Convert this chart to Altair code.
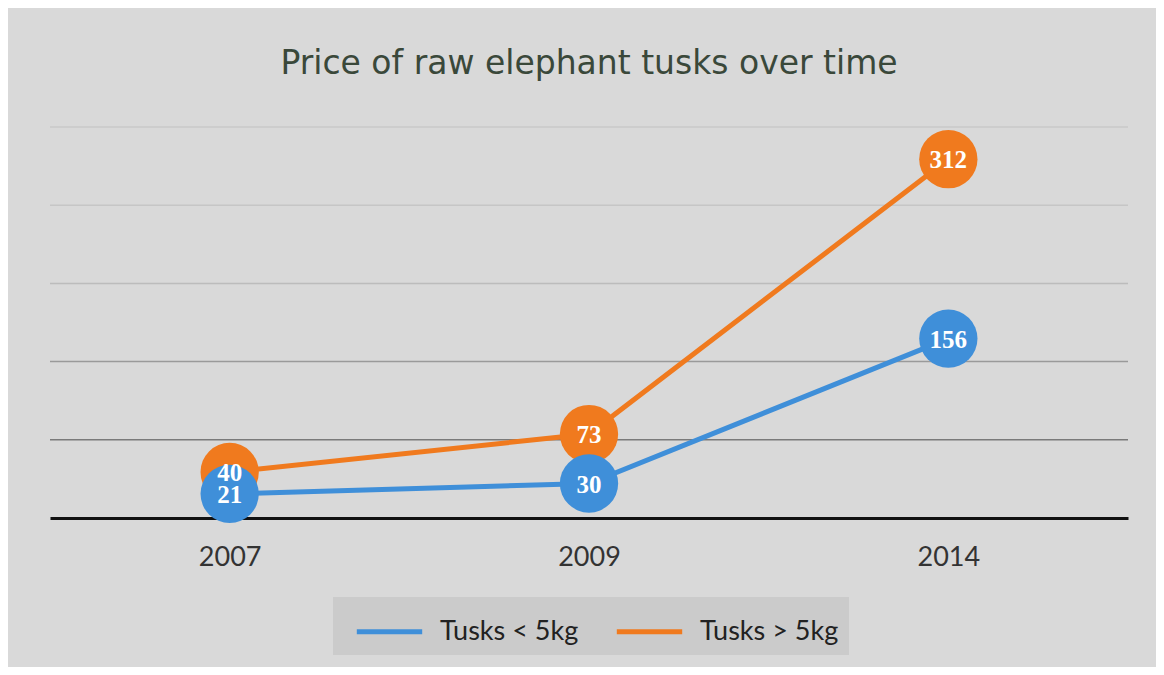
import altair as alt
import pandas as pd

years = ["2007", "2009", "2014"]
series_names = ["Tusks < 5kg", "Tusks > 5kg"]
small_tusks = [21, 30, 156]
large_tusks = [40, 73, 312]
series_colors = ["#3f8fd9", "#f07a1e"]

grid_values = [68, 136, 204, 272, 340]
grid_colors = ["#7a7a7a", "#9a9a9a", "#bcbcbc", "#c6c6c6", "#c8c8c8"]

rows = []
for y, v in zip(years, large_tusks):
    rows.append({"year": y, "series": series_names[1], "value": v})
for y, v in zip(years, small_tusks):
    rows.append({"year": y, "series": series_names[0], "value": v})
df = pd.DataFrame(rows)
grid_df = pd.DataFrame({"g": grid_values, "c": grid_colors})

yscale = alt.Scale(domain=[0, 340], nice=False, zero=True)
xenc = alt.X("year:O", scale=alt.Scale(type="point", padding=0.5),
             axis=alt.Axis(title=None, labelAngle=0, ticks=False, labelFontSize=27,
                           labelFont="Lato", labelColor="#333333", labelPadding=26,
                           domainColor="#111111", domainWidth=3))
color_scale = alt.Scale(domain=series_names, range=series_colors)

grid = alt.Chart(grid_df).mark_rule(strokeWidth=1.5).encode(
    y=alt.Y("g:Q", scale=yscale, axis=None),
    stroke=alt.Stroke("c:N", scale=None, legend=None),
)

lines = alt.Chart(df).mark_line(strokeWidth=5).encode(
    x=xenc,
    y=alt.Y("value:Q", scale=yscale, axis=None),
    color=alt.Color("series:N", scale=color_scale,
                    legend=alt.Legend(title=None, orient="none", direction="horizontal",
                                      legendX=283, legendY=470,
                                      symbolType="M-1.5,0H1.5", symbolSize=1900,
                                      symbolOffset=22,
                                      symbolStrokeWidth=5, labelFontSize=27,
                                      labelFont="Lato", labelColor="#222222",
                                      labelOffset=26, columnPadding=24,
                                      fillColor="#cbcbcb", padding=10)),
    detail="series:N",
)

circles = alt.Chart(df).mark_circle(size=3400, opacity=1).encode(
    x=xenc,
    y=alt.Y("value:Q", scale=yscale, axis=None),
    fill=alt.Fill("series:N", scale=color_scale, legend=None),
)

labels = alt.Chart(df).mark_text(font="Liberation Serif", fontWeight="bold", fontSize=25,
                                 color="white", baseline="middle", align="center", dy=1).encode(
    x=xenc,
    y=alt.Y("value:Q", scale=yscale, axis=None),
    text="value:Q",
)

chart = alt.layer(grid, lines, circles, labels).properties(
    width=1078, height=391,
    background="#d9d9d9",
    autosize=alt.AutoSizeParams(type="none"),
    padding={"left": 42, "top": 119, "right": 28, "bottom": 149},
    title=alt.TitleParams("Price of raw elephant tusks over time", font="DejaVu Sans",
                          fontSize=33, fontWeight="normal", color="#3a483a",
                          anchor="middle", offset=45),
).configure_view(stroke=None)

chart.save("out.html", embed_options={"renderer": "svg", "actions": False})
